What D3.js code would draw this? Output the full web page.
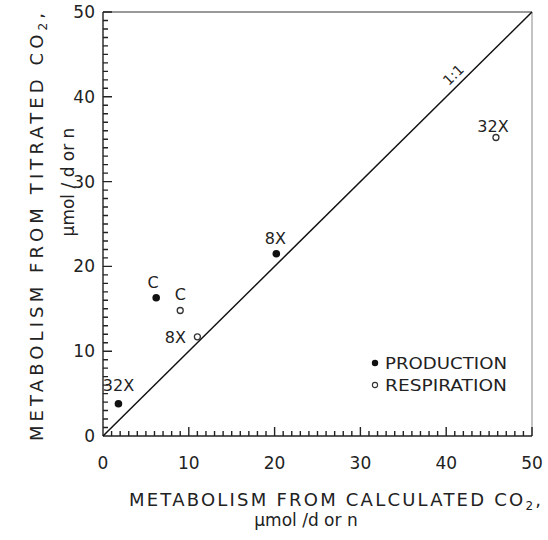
<!DOCTYPE html>
<html>
<head>
<meta charset="utf-8">
<script src="https://cdn.jsdelivr.net/npm/d3@7"></script>
</head>
<body style="margin:0">
<svg id="chart"></svg>
<script>
// Production (filled) and respiration (open) points, µmol/d or n
const productionX = [1.8, 6.2, 20.2];
const productionY = [3.8, 16.3, 21.5];
const productionLabels = ['32X', 'C', '8X'];

const respirationX = [9.0, 11.0, 45.8];
const respirationY = [14.8, 11.7, 35.2];
const respirationLabels = ['C', '8X', '32X'];

const tickValues = [0, 10, 20, 30, 40, 50];
const legendLabels = ['PRODUCTION', 'RESPIRATION'];

const width = 548, height = 540;
const margin = {top: 12, right: 16, bottom: 104, left: 103};
const innerW = width - margin.left - margin.right;
const innerH = height - margin.top - margin.bottom;
const font = '"DejaVu Sans", sans-serif';

const svg = d3.select('#chart')
    .attr('width', width)
    .attr('height', height);

const xScale = d3.scaleLinear().domain([0, 50]).range([margin.left, margin.left + innerW]);
const yScale = d3.scaleLinear().domain([0, 50]).range([margin.top + innerH, margin.top]);
const x0 = xScale(0), x1 = xScale(50), y0 = yScale(0), y1 = yScale(50);

// Frame: top and right borders are lighter
svg.append('line')
    .attr('x1', x0).attr('x2', x1).attr('y1', y1).attr('y2', y1)
    .attr('stroke', '#999').attr('stroke-width', 2);
svg.append('line')
    .attr('x1', x1).attr('x2', x1).attr('y1', y1).attr('y2', y0)
    .attr('stroke', '#888').attr('stroke-width', 1);

// Axes drawn as one comb path: axis line plus a tick at every unit, inward
const allTicks = d3.range(0, 51);
const tickLen = d => d % 10 === 0 ? 9 : 5;
const combX = d3.path();
combX.moveTo(x0, y0);
combX.lineTo(x1, y0);
allTicks.forEach(d => {
  combX.moveTo(xScale(d), y0);
  combX.lineTo(xScale(d), y0 - tickLen(d));
});
const combY = d3.path();
combY.moveTo(x0, y0);
combY.lineTo(x0, y1);
allTicks.forEach(d => {
  combY.moveTo(x0, yScale(d));
  combY.lineTo(x0 + tickLen(d), yScale(d));
});
svg.append('path')
    .attr('d', combX.toString() + combY.toString())
    .attr('fill', 'none')
    .attr('stroke', '#222')
    .attr('stroke-width', 1.4);

// Tick labels
svg.append('g').selectAll('text').data(tickValues).join('text')
    .attr('x', d => xScale(d))
    .attr('y', y0 + 33)
    .attr('text-anchor', 'middle')
    .attr('font-family', font).attr('font-size', 17).attr('fill', '#222')
    .text(d => d);

svg.append('g').selectAll('text').data(tickValues).join('text')
    .attr('x', x0 - 8)
    .attr('y', d => yScale(d) + 6)
    .attr('text-anchor', 'end')
    .attr('font-family', font).attr('font-size', 17).attr('fill', '#222')
    .text(d => d);

// 1:1 line
svg.append('line')
    .attr('x1', x0).attr('y1', y0)
    .attr('x2', x1).attr('y2', y1)
    .attr('stroke', '#111').attr('stroke-width', 1.5);

const angle = Math.atan2(y1 - y0, x1 - x0) * 180 / Math.PI;
svg.append('text')
    .attr('transform', `translate(${xScale(41.7) - 4},${yScale(41.7) - 4}) rotate(${angle})`)
    .attr('text-anchor', 'middle')
    .attr('font-family', font).attr('font-size', 14).attr('fill', '#222')
    .text('1:1');

// Points
const production = productionX.map((x, i) => ({x, y: productionY[i], label: productionLabels[i]}));
const respiration = respirationX.map((x, i) => ({x, y: respirationY[i], label: respirationLabels[i]}));

svg.append('g').selectAll('circle').data(production).join('circle')
    .attr('cx', d => xScale(d.x)).attr('cy', d => yScale(d.y))
    .attr('r', 3.8).attr('fill', '#111');

svg.append('g').selectAll('circle').data(respiration).join('circle')
    .attr('cx', d => xScale(d.x)).attr('cy', d => yScale(d.y))
    .attr('r', 3).attr('fill', 'none')
    .attr('stroke', '#333').attr('stroke-width', 1.3);

// Point labels: offsets relative to each point
const prodOffsets = [[0, -13], [-3, -10], [-1, -10]];
const respOffsets = [[0, -10], [-22, 6], [-3, -6]];

svg.append('g').selectAll('text').data(production).join('text')
    .attr('x', (d, i) => xScale(d.x) + prodOffsets[i][0])
    .attr('y', (d, i) => yScale(d.y) + prodOffsets[i][1])
    .attr('text-anchor', 'middle')
    .attr('font-family', font).attr('font-size', 16).attr('fill', '#222')
    .text(d => d.label);

svg.append('g').selectAll('text').data(respiration).join('text')
    .attr('x', (d, i) => xScale(d.x) + respOffsets[i][0])
    .attr('y', (d, i) => yScale(d.y) + respOffsets[i][1])
    .attr('text-anchor', 'middle')
    .attr('font-family', font).attr('font-size', 16).attr('fill', '#222')
    .text(d => d.label);

// Legend
const legend = svg.append('g')
    .attr('transform', 'translate(375,363)');
legend.append('circle').attr('cx', 0).attr('cy', 0).attr('r', 3.2).attr('fill', '#111');
legend.append('circle').attr('cx', 0).attr('cy', 22).attr('r', 2.6)
    .attr('fill', 'none').attr('stroke', '#333').attr('stroke-width', 1.1);
legend.selectAll('text').data(legendLabels).join('text')
    .attr('x', 10)
    .attr('y', (d, i) => i * 22 + 6)
    .attr('textLength', 122)
    .attr('lengthAdjust', 'spacingAndGlyphs')
    .attr('font-family', font).attr('font-size', 15).attr('fill', '#222')
    .text(d => d);

// Axis titles
const xTitle = svg.append('text')
    .attr('x', 335).attr('y', 506)
    .attr('text-anchor', 'middle')
    .attr('textLength', 412)
    .attr('lengthAdjust', 'spacing')
    .attr('font-family', font).attr('font-size', 18).attr('fill', '#222');
xTitle.append('tspan').text('METABOLISM  FROM  CALCULATED  CO');
xTitle.append('tspan').attr('dy', 4).attr('font-size', 12).text('2');
xTitle.append('tspan').attr('dy', -4).text(',');

svg.append('text')
    .attr('x', 306).attr('y', 526)
    .attr('text-anchor', 'middle')
    .attr('font-family', font).attr('font-size', 17).attr('fill', '#222')
    .text('\u00b5mol /d or n');

const yTitle = svg.append('text')
    .attr('transform', 'translate(43,227) rotate(-90)')
    .attr('text-anchor', 'middle')
    .attr('textLength', 428)
    .attr('lengthAdjust', 'spacing')
    .attr('font-family', font).attr('font-size', 18).attr('fill', '#222');
yTitle.append('tspan').text('METABOLISM  FROM  TITRATED  CO');
yTitle.append('tspan').attr('dy', 4).attr('font-size', 12).text('2');
yTitle.append('tspan').attr('dy', -4).text(',');

svg.append('text')
    .attr('transform', 'translate(74,182) rotate(-90)')
    .attr('text-anchor', 'middle')
    .attr('font-family', font).attr('font-size', 17).attr('fill', '#222')
    .text('\u00b5mol / d or n');
</script>
</body>
</html>
